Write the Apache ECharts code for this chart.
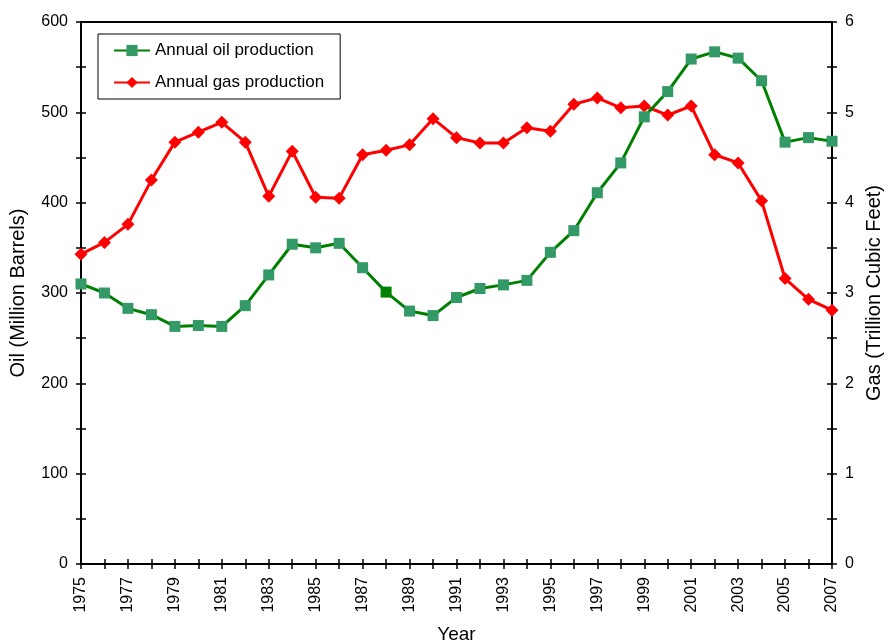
<!DOCTYPE html>
<html>
<head>
<meta charset="utf-8">
<script src="https://cdn.jsdelivr.net/npm/echarts@6/dist/echarts.min.js"></script>
<style>html,body{margin:0;padding:0;background:#fff;}#c{width:884px;height:642px;}</style>
</head>
<body>
<div id="c"></div>
<script>
const years = ['1975','1976','1977','1978','1979','1980','1981','1982','1983','1984','1985','1986','1987','1988','1989','1990','1991','1992','1993','1994','1995','1996','1997','1998','1999','2000','2001','2002','2003','2004','2005','2006','2007'];
const oilProduction = [310,300,283,276,263,264,263,286,320,354,350,355,328,301,280,275,295,305,309,314,345,369,411,444,495,523,559,567,560,535,467,472,468];
const gasProduction = [3.43,3.56,3.76,4.25,4.67,4.78,4.89,4.67,4.07,4.57,4.06,4.05,4.53,4.58,4.64,4.93,4.72,4.66,4.66,4.83,4.79,5.09,5.16,5.05,5.07,4.97,5.07,4.53,4.44,4.02,3.16,2.93,2.81];
const oilTicks = [0,100,200,300,400,500,600];
const gasTicks = [0,1,2,3,4,5,6];

const FONT = 'Liberation Sans, Arial, sans-serif';
const chart = echarts.init(document.getElementById('c'));

const oilData = oilProduction.map((v, i) => years[i] === '1988'
  ? { value: v, itemStyle: { color: '#008000' } } : v);

const baseX = {
  type: 'category', data: years, boundaryGap: false,
  axisLine: { show: true, onZero: false, lineStyle: { color: '#000', width: 2 } },
  splitLine: { show: false }
};
const labelFmt = (ticks) => (v) => ticks.indexOf(Math.round(v * 1000) / 1000) >= 0 ? String(v) : '';

chart.setOption({
  animation: false,
  backgroundColor: '#fff',
  grid: { left: 81, right: 52, top: 22, bottom: 78, containLabel: false, outerBoundsMode: 'none',
          show: true, borderColor: '#000', borderWidth: 2, backgroundColor: 'transparent' },
  legend: {
    orient: 'vertical', left: 98, top: 34,
    data: ['Annual oil production', 'Annual gas production'],
    backgroundColor: '#fff', borderColor: '#000', borderWidth: 1,
    padding: [8, 16, 8, 15], itemGap: 15, itemWidth: 36, itemHeight: 14,
    textStyle: { fontFamily: FONT, fontSize: 17, color: '#000' }
  },
  xAxis: [
    Object.assign({}, baseX, {
      position: 'bottom',
      name: 'Year', nameLocation: 'middle', nameGap: 61,
      nameTextStyle: { fontFamily: FONT, fontSize: 19, color: '#000' },
      axisTick: { show: true, interval: 0, length: 5, inside: false, lineStyle: { color: '#000', width: 1.5 } },
      axisLabel: { interval: 1, rotate: 90, margin: 13, fontFamily: FONT, fontSize: 16, color: '#000' }
    }),
    Object.assign({}, baseX, {
      position: 'bottom',
      axisTick: { show: true, interval: 0, length: 5, inside: true, lineStyle: { color: '#000', width: 1.5 } },
      axisLabel: { show: false }
    })
  ],
  yAxis: [
    {
      type: 'value', position: 'left', min: 0, max: 600, interval: 50,
      name: 'Oil (Million Barrels)', nameLocation: 'middle', nameGap: 53, nameRotate: 90,
      nameTextStyle: { fontFamily: FONT, fontSize: 20, color: '#000' },
      axisLine: { show: true, lineStyle: { color: '#000', width: 2 } },
      axisTick: { show: true, length: 5, lineStyle: { color: '#000', width: 1.5 } },
      axisLabel: { margin: 13, fontFamily: FONT, fontSize: 16, color: '#000', formatter: labelFmt(oilTicks) },
      splitLine: { show: false }
    },
    {
      type: 'value', position: 'right', min: 0, max: 6, interval: 0.5,
      name: 'Gas (Trillion Cubic Feet)', nameLocation: 'middle', nameGap: 32, nameRotate: 90,
      nameTextStyle: { fontFamily: FONT, fontSize: 20, color: '#000' },
      axisLine: { show: true, lineStyle: { color: '#000', width: 2 } },
      axisTick: { show: true, length: 5, lineStyle: { color: '#000', width: 1.5 } },
      axisLabel: { margin: 13, fontFamily: FONT, fontSize: 16, color: '#000', formatter: labelFmt(gasTicks) },
      splitLine: { show: false }
    },
    {
      type: 'value', position: 'left', min: 0, max: 600, interval: 50,
      axisLine: { show: false },
      axisTick: { show: true, inside: true, length: 5, lineStyle: { color: '#000', width: 1.5 } },
      axisLabel: { show: false }, splitLine: { show: false }
    },
    {
      type: 'value', position: 'right', min: 0, max: 6, interval: 0.5,
      axisLine: { show: false },
      axisTick: { show: true, inside: true, length: 5, lineStyle: { color: '#000', width: 1.5 } },
      axisLabel: { show: false }, splitLine: { show: false }
    }
  ],
  series: [
    {
      name: 'Annual gas production', type: 'line', yAxisIndex: 1, xAxisIndex: 0,
      data: gasProduction, symbol: 'diamond', symbolSize: 13, showAllSymbol: true,
      lineStyle: { color: '#FF0000', width: 3 }, itemStyle: { color: '#FF0000' }, z: 3
    },
    {
      name: 'Annual oil production', type: 'line', yAxisIndex: 0, xAxisIndex: 0,
      data: oilData, symbol: 'rect', symbolSize: 11, showAllSymbol: true,
      lineStyle: { color: '#008000', width: 3 }, itemStyle: { color: '#339966' }, z: 4
    }
  ]
});
</script>
</body>
</html>
